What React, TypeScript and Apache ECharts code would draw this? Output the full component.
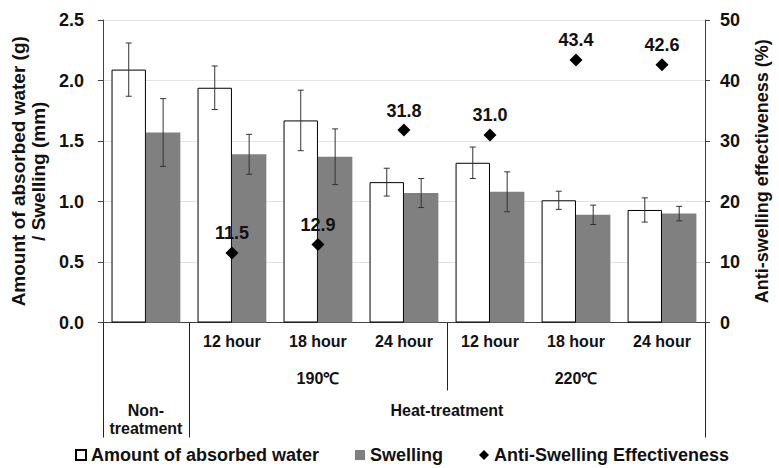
import React, { useEffect, useRef } from "react";
import * as echarts from "echarts";

const categories = ["", "12 hour", "18 hour", "24 hour", "12 hour", "18 hour", "24 hour"];
const absorbedWater = [2.09, 1.94, 1.67, 1.16, 1.32, 1.01, 0.93];
const absorbedWaterErr = [0.22, 0.18, 0.25, 0.115, 0.13, 0.075, 0.1];
const swelling = [1.57, 1.39, 1.37, 1.07, 1.08, 0.89, 0.9];
const swellingErr = [0.28, 0.165, 0.23, 0.12, 0.165, 0.08, 0.06];
const antiSwelling: (number | string)[] = ["-", 11.5, 12.9, 31.8, 31.0, 43.4, 42.6];

const temperatureGroups = [
  { label: "190℃", start: 1, end: 3 },
  { label: "220℃", start: 4, end: 6 },
];
const treatmentGroups = [
  { label: "Non-\ntreatment", start: 0, end: 0 },
  { label: "Heat-treatment", start: 1, end: 6 },
];

const FONT = "'Liberation Sans', Arial, Helvetica, sans-serif";

function errorSeries(values: number[], errs: number[], side: number) {
  return {
    type: "custom",
    silent: true,
    z: 5,
    data: values.map((v, i) => [i, v - errs[i], v + errs[i]]),
    encode: { x: 0, y: [1, 2] },
    renderItem: (_params: any, api: any) => {
      const i = api.value(0);
      const band = api.size([1, 0])[0];
      const barW = band * 0.4;
      const cx = api.coord([i, 0])[0] + (side * barW) / 2;
      const yl = api.coord([i, api.value(1)])[1];
      const yh = api.coord([i, api.value(2)])[1];
      const cap = 3;
      const style = { stroke: "#333", lineWidth: 1 };
      return {
        type: "group",
        children: [
          { type: "line", shape: { x1: cx, y1: yh, x2: cx, y2: yl }, style },
          { type: "line", shape: { x1: cx - cap, y1: yh, x2: cx + cap, y2: yh }, style },
          { type: "line", shape: { x1: cx - cap, y1: yl, x2: cx + cap, y2: yl }, style },
        ],
      };
    },
  };
}

export default function App() {
  const ref = useRef<HTMLDivElement>(null);
  useEffect(() => {
    document.body.style.margin = "0";
    if (!ref.current) return;
    const chart = echarts.init(ref.current, null, { renderer: "svg" });
    const option: any = {
      animation: false,
      backgroundColor: "#fff",
      textStyle: { fontFamily: FONT },
      grid: { left: 101, right: 66, top: 20, bottom: 145.5 },
      legend: {
        left: 70,
        top: 441,
        itemWidth: 10,
        itemHeight: 10,
        itemGap: 36,
        textStyle: { fontSize: 18, fontWeight: "bold", color: "#111", fontFamily: FONT },
        data: [
          { name: "Amount of absorbed water", icon: "rect" },
          { name: "Swelling", icon: "rect" },
          { name: "Anti-Swelling Effectiveness", icon: "diamond" },
        ],
      },
      xAxis: {
        type: "category",
        data: categories,
        axisLine: { show: true, lineStyle: { color: "#404040", width: 1 } },
        axisTick: { show: false },
        axisLabel: { margin: 11, fontSize: 16, fontWeight: "bold", color: "#111", fontFamily: FONT, interval: 0 },
        splitLine: { show: false },
      },
      yAxis: [
        {
          type: "value",
          min: 0,
          max: 2.5,
          interval: 0.5,
          name: "Amount of absorbed water (g)\n/ Swelling (mm)",
          nameLocation: "middle",
          nameRotate: 90,
          nameGap: 49,
          nameTextStyle: { fontSize: 19, fontWeight: "bold", color: "#111", lineHeight: 20, fontFamily: FONT },
          axisLine: { show: true, lineStyle: { color: "#404040", width: 1 } },
          axisTick: { show: true, length: 5, lineStyle: { color: "#404040" } },
          axisLabel: {
            margin: 19,
            fontSize: 18,
            fontWeight: "bold",
            color: "#111",
            fontFamily: FONT,
            formatter: (v: number) => v.toFixed(1),
          },
          splitLine: { show: true, lineStyle: { color: "#e3e3e3", width: 1 } },
        },
        {
          type: "value",
          min: 0,
          max: 50,
          interval: 10,
          position: "right",
          name: "Anti-swelling effectiveness (%)",
          nameLocation: "middle",
          nameRotate: 90,
          nameGap: 48,
          nameTextStyle: { fontSize: 18, fontWeight: "bold", color: "#111", fontFamily: FONT },
          axisLine: { show: true, lineStyle: { color: "#404040", width: 1 } },
          axisTick: { show: true, length: 5, lineStyle: { color: "#404040" } },
          axisLabel: { margin: 15, fontSize: 18, fontWeight: "bold", color: "#111", fontFamily: FONT },
          splitLine: { show: false },
        },
      ],
      series: [
        {
          name: "Amount of absorbed water",
          type: "bar",
          data: absorbedWater,
          barCategoryGap: "20%",
          barGap: "0%",
          itemStyle: { color: "#ffffff", borderColor: "#000", borderWidth: 1 },
        },
        {
          name: "Swelling",
          type: "bar",
          data: swelling,
          barCategoryGap: "20%",
          barGap: "0%",
          itemStyle: { color: "#808080" },
        },
        errorSeries(absorbedWater, absorbedWaterErr, -1),
        errorSeries(swelling, swellingErr, 1),
        {
          name: "Anti-Swelling Effectiveness",
          type: "scatter",
          yAxisIndex: 1,
          data: antiSwelling,
          symbol: "diamond",
          symbolSize: 13,
          z: 6,
          itemStyle: { color: "#000", opacity: 1 },
          label: {
            show: true,
            position: "top",
            distance: 4,
            fontSize: 18,
            fontWeight: "bold",
            color: "#111",
            fontFamily: FONT,
            formatter: (p: any) => Number(p.value).toFixed(1),
          },
        },
      ],
    };
    chart.setOption(option);

    const c0 = chart.convertToPixel({ xAxisIndex: 0 }, 0) as number;
    const c1 = chart.convertToPixel({ xAxisIndex: 0 }, 1) as number;
    const band = c1 - c0;
    const edge = (i: number) => c0 + (i - 0.5) * band;
    const y0 = chart.convertToPixel({ yAxisIndex: 0 }, 0) as number;
    const lineStyle = { stroke: "#222", lineWidth: 1 };
    const graphics: any[] = [];
    const treatEdges = new Set<number>();
    treatmentGroups.forEach((g) => {
      treatEdges.add(g.start);
      treatEdges.add(g.end + 1);
    });
    treatEdges.forEach((b) => {
      graphics.push({
        type: "line",
        shape: { x1: Math.round(edge(b)) + 0.5, y1: y0, x2: Math.round(edge(b)) + 0.5, y2: y0 + 115 },
        style: lineStyle,
      });
    });
    temperatureGroups.forEach((g, k) => {
      if (k > 0) {
        const x = Math.round(edge(g.start)) + 0.5;
        graphics.push({ type: "line", shape: { x1: x, y1: y0, x2: x, y2: y0 + 68 }, style: lineStyle });
      }
      graphics.push({
        type: "text",
        x: (edge(g.start) + edge(g.end + 1)) / 2,
        y: y0 + 55.5,
        style: {
          text: g.label,
          fill: "#111",
          font: `bold 16px ${FONT}`,
          textAlign: "center",
          textVerticalAlign: "middle",
        },
      });
    });
    treatmentGroups.forEach((g) => {
      graphics.push({
        type: "text",
        x: (edge(g.start) + edge(g.end + 1)) / 2,
        y: y0 + 79,
        style: {
          text: g.label,
          fill: "#111",
          font: `bold 16px ${FONT}`,
          lineHeight: 18,
          textAlign: "center",
          textVerticalAlign: "top",
        },
      });
    });
    chart.setOption({ graphic: graphics });

    return () => chart.dispose();
  }, []);
  return <div ref={ref} style={{ width: 779, height: 468 }} />;
}
